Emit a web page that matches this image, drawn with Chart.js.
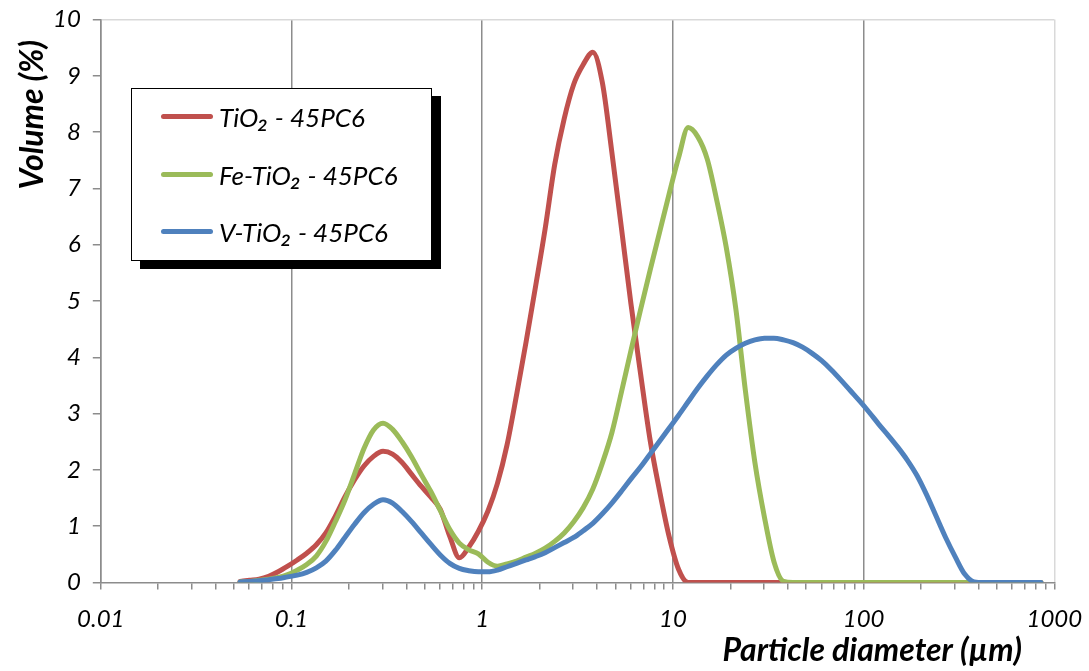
<!DOCTYPE html>
<html>
<head>
<meta charset="utf-8">
<script src="https://cdn.jsdelivr.net/npm/chart.js@4.4.1/dist/chart.umd.min.js"></script>
<style>
html,body{margin:0;padding:0;background:#fff;}
#wrap{position:relative;width:1089px;height:671px;overflow:hidden;}
canvas{display:block;}
#legend{position:absolute;left:131px;top:88px;width:299px;height:171px;border:1.5px solid #000;background:#fff;box-shadow:9px 8px 0 #000;font-family:Lato,"DejaVu Sans",sans-serif;font-style:italic;font-size:26px;color:#000;}
.row{position:absolute;left:29px;height:30px;display:flex;align-items:center;white-space:nowrap;}
.swatch{width:52px;height:5px;border-radius:3px;margin-right:6px;flex:none;}
.sub{font-size:1.2em;line-height:0;position:relative;top:0.02em;}
</style>
</head>
<body>
<div id="wrap">
<canvas id="c" width="1089" height="671"></canvas>
<div id="legend"></div>
</div>
<script>
// particle size classes (µm)
const sizes = [0.0537,0.0603,0.0676,0.0759,0.0851,0.0955,0.1072,0.1202,0.1349,0.1514,
0.1698,0.1905,0.2138,0.2399,0.2692,0.302,0.3388,0.3802,0.4266,0.4786,
0.537,0.6026,0.6761,0.7586,0.8511,0.955,1.072,1.202,1.349,1.514,
1.698,1.905,2.138,2.399,2.692,3.02,3.388,3.802,4.266,4.786,
5.37,6.026,6.761,7.586,8.511,9.55,10.72,12.02,13.49,15.14,
16.98,19.05,21.38,23.99,26.92,30.2,33.88,38.02,42.66,47.86,
53.7,60.26,67.61,75.86,85.11,95.5,107.2,120.2,134.9,151.4,
169.8,190.5,213.8,239.9,269.2,302,338.8,380.2,426.6,478.6,
537,602.6,676.1,758.6,851.1];

// Volume (%) per series
const tio2 = [0.02,0.04,0.06,0.11,0.19,0.29,0.40,0.52,0.67,0.88,
1.18,1.52,1.82,2.07,2.24,2.33,2.28,2.13,1.92,1.71,
1.52,1.30,0.82,0.44,0.63,0.91,1.27,1.76,2.44,3.33,
4.27,5.26,6.28,7.42,8.24,8.85,9.20,9.42,8.88,7.64,
6.30,4.95,3.72,2.54,1.63,0.82,0.23,0,0,0,
0,0,0,0,0,0,0,0,0,0,
0,0,0,0,0,0,0,0,0,0,
0,0,0,0,0,0,0,0,0,0,
0,0,0,0,0];

const feTio2 = [0.01,0.02,0.04,0.06,0.09,0.14,0.22,0.32,0.47,0.73,
1.08,1.46,1.92,2.38,2.71,2.83,2.72,2.50,2.23,1.92,
1.62,1.28,0.94,0.70,0.58,0.51,0.36,0.29,0.33,0.38,
0.45,0.52,0.61,0.73,0.88,1.08,1.33,1.66,2.12,2.66,
3.38,4.12,4.84,5.54,6.22,6.90,7.55,8.08,7.92,7.52,
6.79,5.95,4.86,3.41,2.13,1.16,0.37,0.02,0,0,
0,0,0,0,0,0,0,0,0,0,
0,0,0,0,0,0,0,0,0,0,
0,0,0,0,0];

const vTio2 = [0.01,0.02,0.03,0.05,0.07,0.10,0.13,0.18,0.26,0.38,
0.57,0.80,1.03,1.24,1.39,1.47,1.41,1.26,1.08,0.88,
0.68,0.49,0.34,0.25,0.21,0.19,0.19,0.22,0.28,0.34,
0.40,0.46,0.53,0.62,0.71,0.80,0.92,1.05,1.22,1.41,
1.62,1.84,2.05,2.28,2.51,2.74,2.97,3.21,3.45,3.67,
3.87,4.04,4.16,4.25,4.31,4.34,4.34,4.31,4.26,4.18,
4.07,3.94,3.78,3.60,3.41,3.22,3.02,2.81,2.61,2.40,
2.17,1.90,1.56,1.18,0.80,0.46,0.15,0.01,0,0,
0,0,0,0,0];

const seriesNames = ['TiO₂ - 45PC6','Fe-TiO₂ - 45PC6','V-TiO₂ - 45PC6'];
const seriesColors = ['#C0504D','#9BBB59','#4F81BD'];
const xMajorTicks = [0.01,0.1,1,10,100,1000];
const xTickLabels = ['0.01','0.1','1','10','100','1000'];
const yTicks = [0,1,2,3,4,5,6,7,8,9,10];
const xTitle = 'Particle diameter (µm)';
const yTitle = 'Volume (%)';

const FONT = 'Lato, "DejaVu Sans", sans-serif';
const series = [tio2, feTio2, vTio2];
const pts = arr => sizes.map((s,i)=>({x:s, y:arr[i]}));
const majorIndex = v => xMajorTicks.findIndex(m => Math.abs(v/m - 1) < 1e-6);
const xAllTicks = [];
xMajorTicks.forEach((m,i)=>{
  xAllTicks.push(m);
  if (i < xMajorTicks.length-1) for (let d=2; d<=9; d++) xAllTicks.push(+(m*d).toPrecision(4));
});

// HTML legend
const legend = document.getElementById('legend');
const rowCenters = [29, 87, 144];
seriesNames.forEach((n,i)=>{
  const r = document.createElement('div');
  r.className = 'row';
  r.style.top = (rowCenters[i] - 15 - 1.5) + 'px';
  const sw = document.createElement('span');
  sw.className = 'swatch';
  sw.style.background = seriesColors[i];
  const t = document.createElement('span');
  n.split('₂').forEach((part,j,arr)=>{
    t.appendChild(document.createTextNode(part));
    if (j < arr.length-1) {
      const s = document.createElement('span');
      s.className = 'sub';
      s.textContent = '₂';
      t.appendChild(s);
    }
  });
  r.appendChild(sw); r.appendChild(t);
  legend.appendChild(r);
});

const axisTitles = {
  id:'axisTitles',
  afterDraw(chart){
    const c = chart.ctx;
    c.save();
    c.fillStyle = '#000';
    c.font = 'italic bold 32px ' + FONT;
    c.textBaseline = 'middle';
    c.textAlign = 'right';
    c.fillText(xTitle, 1022, 651);
    c.translate(33, 40);
    c.rotate(-Math.PI/2);
    c.textAlign = 'right';
    c.fillText(yTitle, 0, 0);
    c.restore();
  }
};

new Chart(document.getElementById('c'), {
  type:'line',
  data:{
    datasets: series.map((arr,i)=>({
      label: seriesNames[i],
      data: pts(arr),
      borderColor: seriesColors[i],
      backgroundColor: seriesColors[i],
      order: 3 - i
    }))
  },
  options:{
    responsive:false,
    animation:false,
    devicePixelRatio:1,
    layout:{padding:{top:19.5, right:34.7, bottom:0, left:0}},
    plugins:{legend:{display:false}, tooltip:{enabled:false}},
    elements:{
      point:{radius:0, hoverRadius:0},
      line:{borderWidth:5, cubicInterpolationMode:'monotone', borderCapStyle:'round', borderJoinStyle:'round', fill:false}
    },
    scales:{
      x:{
        type:'logarithmic', min:0.01, max:1000,
        afterFit: s => { s.height = 88.5; s.paddingLeft = 0; s.paddingRight = 0; },
        afterBuildTicks: s => { s.ticks = xAllTicks.map(v=>({value:v})); },
        ticks:{
          autoSkip:false, maxRotation:0, minRotation:0, padding:15, color:'#000',
          font:{family:FONT, size:24, style:'italic'},
          callback: v => { const i = majorIndex(v); return i >= 0 ? xTickLabels[i] : ''; }
        },
        grid:{
          color: c => {
            if (!c.tick) return 'rgba(0,0,0,0)';
            const i = majorIndex(c.tick.value);
            if (i < 0) return 'rgba(0,0,0,0)';
            return i === xMajorTicks.length-1 ? '#d9d9d9' : '#8c8c8c';
          },
          lineWidth:1.5, tickLength:7, tickColor:'#8c8c8c', tickWidth:1.5
        },
        border:{color:'#8c8c8c', width:1.5}
      },
      y:{
        min:0, max:10,
        afterFit: s => { s.width = 100.8; s.paddingTop = 0; s.paddingBottom = 0; },
        afterBuildTicks: s => { s.ticks = yTicks.map(v=>({value:v})); },
        ticks:{padding:12, color:'#000', font:{family:FONT, size:24, style:'italic'}},
        grid:{
          color: c => (c.tick && c.tick.value === 10) ? '#d9d9d9' : 'rgba(0,0,0,0)',
          lineWidth:1.5, tickLength:8, tickColor:'#8c8c8c', tickWidth:1.5
        },
        border:{color:'#8c8c8c', width:1.5}
      }
    }
  },
  plugins:[axisTitles]
});
</script>
</body>
</html>
